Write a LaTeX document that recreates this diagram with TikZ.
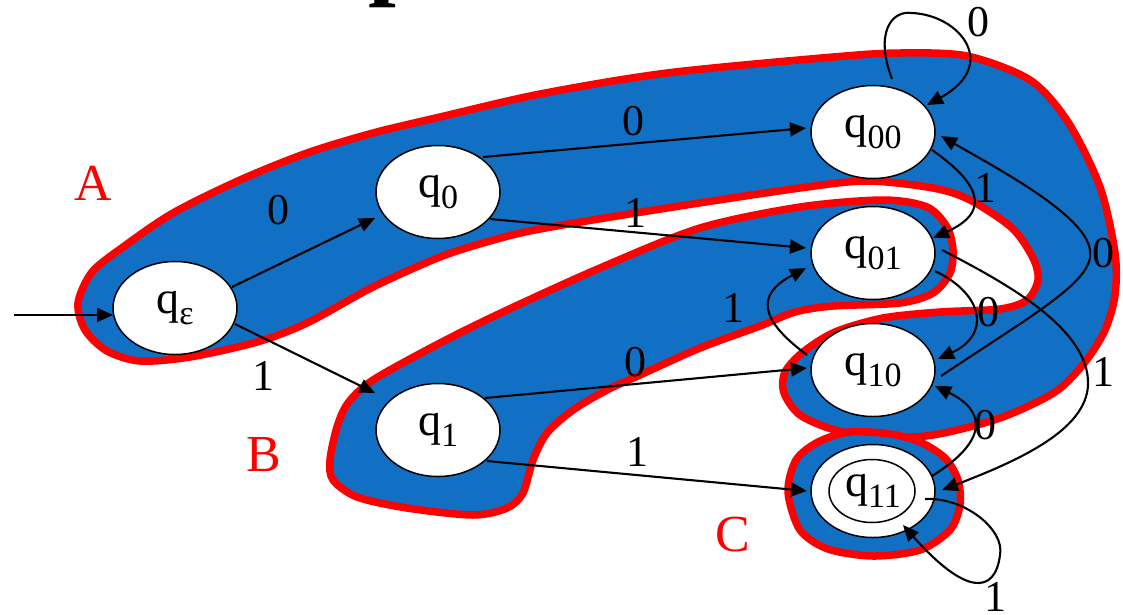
\documentclass[tikz,border=0pt]{standalone}
\usepackage{fontspec}
\setmainfont{Liberation Serif}
\usetikzlibrary{arrows.meta,calc,shapes.geometric}
\definecolor{blobblue}{RGB}{17,112,196}
\newcommand{\qsub}[1]{q\raisebox{-11pt}{\fontsize{34}{34}\selectfont #1}}
\begin{document}
\begin{tikzpicture}[x=1pt,y=-1pt,
  stnode/.style={ellipse, draw, fill=white, line width=1.5pt, minimum width=124pt, minimum height=93pt, inner sep=0pt, font=\fontsize{46}{50}\selectfont},
  innerring/.style={ellipse, draw, line width=1.5pt, minimum width=86pt, minimum height=63pt, inner sep=0pt},
  blob/.style={fill=blobblue, draw=red, line width=7.5pt, line join=round},
  trans/.style={line width=2.1pt, -{Triangle[length=16pt,width=14pt]}},
  lbl/.style={font=\fontsize{44}{44}\selectfont, inner sep=0pt},
  grp/.style={text=red, font=\fontsize{52}{52}\selectfont, inner sep=0pt}]
\useasboundingbox (0,0) rectangle (1123,614);

% title fragment
\node[anchor=base west, inner sep=0pt, font=\fontsize{100}{100}\selectfont\bfseries] (title) at (368,-13.5) {p};

% blobs
\path[blob] plot[smooth cycle, tension=0.5] coordinates {
 (78,303) (92,272) (123,247) (173,213) (240,180) (307,153) (373,133) (440,117) (540,94)
 (667,73) (833,57) (900,53) (967,56) (1030,80) (1068,122) (1100,187) (1115,253) (1115,295)
 (1105,330) (1085,362) (1055,392) (1000,418) (933,435) (880,437) (835,430) (800,415)
 (784,393) (785,372) (803,352) (835,332) (883,318) (940,312) (1000,309) (1027,300)
 (1038,280) (1033,258) (1012,228) (970,200) (933,188) (867,181) (800,188) (667,208)
 (540,229) (490,241) (440,257) (373,287) (307,323) (257,342) (190,357) (140,361)
 (107,351) (85,330)};
\path[blob] plot[smooth cycle, tension=0.5] coordinates {
 (330,460) (337,427) (348,403) (373,380) (440,343) (505,311) (600,268) (700,228) (800,207)
 (883,200) (927,207) (947,227) (953,250) (950,273) (933,293) (900,303) (833,306) (795,312)
 (760,326) (700,348) (640,375) (607,390) (573,410) (547,433) (533,460) (523,493) (507,508)
 (473,515) (407,508) (357,497) (333,480)};
\path[blob] plot[smooth cycle, tension=0.5] coordinates {
 (788,492) (796,460) (818,442) (850,432) (890,434) (920,442) (945,458) (958,480) (960,505)
 (950,530) (920,550) (873,556) (828,549) (800,530)};

% group labels
\node[grp] (lA) at (93,183) {A};
\node[grp] (lB) at (264,455) {B};
\node[grp] (lC) at (733,535) {C};

% states
\node[stnode] (qe)  at (175,308) {\qsub{ε}\hspace{24pt}};
\node[stnode] (q0)  at (438,192) {\qsub{0}\hspace{24pt}};
\node[stnode] (q1)  at (438,430) {\qsub{1}\hspace{24pt}};
\node[stnode] (q00) at (873,132) {\qsub{00}\hspace{24pt}};
\node[stnode] (q01) at (873,253) {\qsub{01}\hspace{24pt}};
\node[stnode] (q10) at (873,370) {\qsub{10}\hspace{24pt}};
\node[stnode] (q11) at (873,491) {\qsub{11}\hspace{24pt}};
\node[innerring] (q11in) at (872,491) {};

% transitions
\coordinate (init) at (14,315);
\draw[trans] (init) -- ($(qe)+(-62,7)$);
\draw[trans] ($(qe)+(57,-21)$) -- ($(q0)+(-63,26)$);
\draw[trans] ($(qe)+(60,16)$) -- ($(q1)+(-63,-37)$);
\draw[trans] ($(q0)+(45,-35)$) -- ($(q00)+(-67,-4)$);
\draw[trans] ($(q0)+(52,27)$) -- ($(q01)+(-67,-5)$);
\draw[trans] ($(q1)+(47,-32)$) -- ($(q10)+(-66,-2)$);
\draw[trans] ($(q1)+(49,31)$) -- ($(q11)+(-66,0)$);
% q00 self loop
\draw[trans] ($(q00)+(19,-53)$) .. controls (875,35) and (890,10) .. (912,13)
  .. controls (960,15) and (1000,65) .. ($(q00)+(54,-27)$);
% q00 -> q01
\draw[trans] ($(q00)+(59,18)$) .. controls (975,180) and (995,210) .. ($(q01)+(60,-15)$);
% q01 -> q10
\draw[trans] ($(q01)+(62,18)$) .. controls (985,295) and (990,335) .. ($(q10)+(65,-11)$);
% q10 -> q00
\draw[trans] ($(q10)+(68,6)$) .. controls (1040,310) and (1095,280) .. (1090,250)
  .. controls (1085,215) and (1000,170) .. ($(q00)+(68,4)$);
% q01 -> q11
\draw[trans] ($(q01)+(69,-3)$) .. controls (1010,285) and (1090,330) .. (1088,385)
  .. controls (1086,430) and (1020,460) .. ($(q11)+(69,-1)$);
% q10 -> q01
\draw[trans] ($(q10)+(-66,-15)$) .. controls (760,320) and (755,295) .. ($(q01)+(-67,15)$);
% q11 -> q10
\draw[trans] ($(q11)+(59,-15)$) .. controls (990,440) and (985,410) .. ($(q10)+(62,16)$);
% q11 self loop
\draw[trans] ($(q11)+(52,8)$) .. controls (965,497) and (1005,530) .. (1000,555)
  .. controls (995,595) and (965,595) .. ($(q11)+(30,34)$);

% transition labels
\node[lbl] (t1)  at (278,210) {0};
\node[lbl] (t2)  at (633,121) {0};
\node[lbl] (t3)  at (635,213) {1};
\node[lbl] (t4)  at (263,376) {1};
\node[lbl] (t5)  at (635,362) {0};
\node[lbl] (t6)  at (637,452) {1};
\node[lbl] (t7)  at (978,22) {0};
\node[lbl] (t8)  at (985,188) {1};
\node[lbl] (t9)  at (988,312) {0};
\node[lbl] (t10) at (1103,253) {0};
\node[lbl] (t11) at (1103,372) {1};
\node[lbl] (t12) at (733,308) {1};
\node[lbl] (t13) at (985,425) {0};
\node[lbl] (t14) at (995,597) {1};
\end{tikzpicture}
\end{document}
